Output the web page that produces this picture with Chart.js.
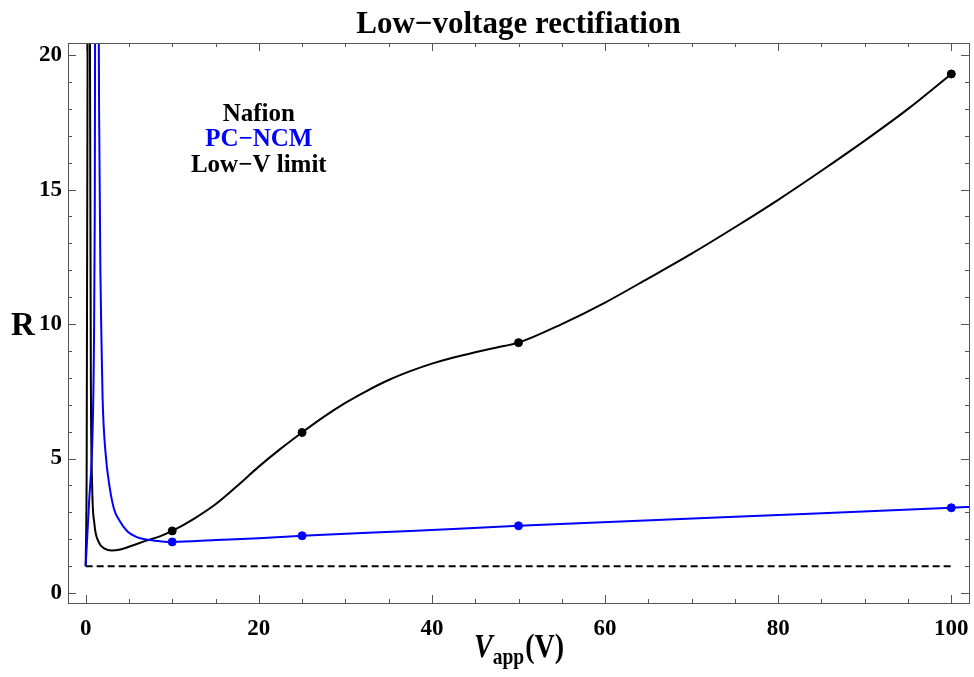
<!DOCTYPE html>
<html>
<head>
<meta charset="utf-8">
<script src="https://cdn.jsdelivr.net/npm/chart.js@4"></script>
<style>
  html, body { margin: 0; padding: 0; background: #fff; }
  #wrap { width: 974px; height: 677px; }
</style>
</head>
<body>
<div id="wrap"><canvas id="rectChart" width="974" height="677"></canvas></div>
<script>
// values
var vNafion = [0, 0.12, 0.22, 0.3, 0.42, 0.5, 0.6, 0.75, 1, 1.5, 2.2, 3, 4, 5, 7, 8.5, 10, 12.5, 15, 17.5, 20, 22.5, 25, 27.5, 30, 32.5, 35, 37.5, 40, 42.5, 45, 47.5, 50, 55, 60, 65, 70, 75, 80, 85, 90, 95, 100];
var rNafion = [1, 5, 20, 45, 45, 20, 8, 4, 2.6, 1.9, 1.65, 1.58, 1.62, 1.72, 1.95, 2.1, 2.31, 2.76, 3.3, 3.98, 4.7, 5.36, 5.97, 6.55, 7.07, 7.52, 7.92, 8.25, 8.53, 8.76, 8.95, 9.13, 9.31, 10.0, 10.8, 11.7, 12.62, 13.6, 14.62, 15.7, 16.82, 18.0, 19.3];

var vPcncm = [0, 0.4, 0.8, 0.95, 1.05, 1.15, 1.4, 1.55, 1.7, 1.85, 1.96, 2.3, 2.77, 3.3, 3.9, 4.8, 5.9, 7.4, 8.8, 10, 15, 20, 25, 37.5, 50, 75, 100, 102.5];
var rPcncm = [1, 3.4, 6, 9, 14, 30, 30, 18, 12, 9, 7.2, 5.2, 3.94, 3.1, 2.7, 2.3, 2.08, 1.97, 1.92, 1.9, 1.97, 2.04, 2.13, 2.31, 2.5, 2.84, 3.17, 3.21];

var vMeasured = [10, 25, 50, 100];
var rNafionPts = [2.31, 5.97, 9.31, 19.3];
var rPcncmPts = [1.9, 2.13, 2.5, 3.17];

var vLimit = [0, 100];
var rLimit = [1, 1];

var xTicks = [0, 20, 40, 60, 80, 100];
var yTicks = [0, 5, 10, 15, 20];
var xMinor = [5, 10, 15, 25, 30, 35, 45, 50, 55, 65, 70, 75, 85, 90, 95];
var yMinor = [1, 2, 3, 4, 6, 7, 8, 9, 11, 12, 13, 14, 16, 17, 18, 19];

var legendLabels = ['Nafion', 'PC\u2212NCM', 'Low\u2212V limit'];
var legendColors = ['#000000', '#0000ff', '#000000'];

var serif = "'Liberation Serif', 'DejaVu Serif', serif";

function pts(xs, ys) {
    var out = [];
    for (var i = 0; i < xs.length; i++) out.push({x: xs[i], y: ys[i]});
    return out;
}

// text squeezed horizontally a bit, like the mathematica export
function squeezed(ctx, text, x, y, font, sx) {
    ctx.save();
    ctx.font = font;
    ctx.translate(x, y);
    ctx.scale(sx, 1);
    ctx.fillText(text, 0, 0);
    ctx.restore();
}

// frame, inside ticks, legend text and titles
var decorPlugin = {
    id: 'decor',
    afterDraw: function(chart) {
        var ctx = chart.ctx;
        var a = chart.chartArea;
        var xs = chart.scales.x, ys = chart.scales.y;
        ctx.save();

        ctx.strokeStyle = '#555';
        ctx.lineWidth = 1;
        ctx.strokeRect(Math.round(a.left) + 0.5, Math.round(a.top) + 0.5, Math.round(a.right - a.left), Math.round(a.bottom - a.top));

        ctx.beginPath();
        var tick = function(list, len) {
            list.forEach(function(v) {
                var px = Math.round(xs.getPixelForValue(v)) + 0.5;
                ctx.moveTo(px, a.bottom); ctx.lineTo(px, a.bottom - len);
                ctx.moveTo(px, a.top); ctx.lineTo(px, a.top + len);
            });
        };
        var ytick = function(list, len) {
            list.forEach(function(v) {
                var py = Math.round(ys.getPixelForValue(v)) + 0.5;
                ctx.moveTo(a.left, py); ctx.lineTo(a.left + len, py);
                ctx.moveTo(a.right, py); ctx.lineTo(a.right - len, py);
            });
        };
        tick(xTicks, 8); tick(xMinor, 4);
        ytick(yTicks, 8); ytick(yMinor, 4);
        ctx.stroke();

        // legend text inside the plot
        ctx.font = 'bold 25px ' + serif;
        ctx.textAlign = 'center';
        ctx.textBaseline = 'middle';
        var lx = xs.getPixelForValue(20);
        var ly = [17.8, 16.85, 15.9];
        for (var i = 0; i < legendLabels.length; i++) {
            ctx.fillStyle = legendColors[i];
            ctx.fillText(legendLabels[i], lx, ys.getPixelForValue(ly[i]));
        }

        // title
        ctx.fillStyle = '#000';
        ctx.textBaseline = 'alphabetic';
        ctx.font = 'bold 31px ' + serif;
        ctx.fillText('Low\u2212voltage rectifiation', (a.left + a.right) / 2, 33);

        // y title
        ctx.font = 'bold 33px ' + serif;
        ctx.fillText('R', 23, 335);

        // x title: V_app(V)
        var sx = 0.85;
        var cx = (a.left + a.right) / 2;
        var base = 657;
        ctx.textAlign = 'left';
        var f1 = 'italic bold 33px ' + serif, f2 = 'bold 23px ' + serif, f3 = 'bold 33px ' + serif;
        ctx.font = f1; var w1 = ctx.measureText('V').width * sx;
        ctx.font = f2; var w2 = ctx.measureText('app').width * sx;
        ctx.font = f3; var w3 = ctx.measureText('(V)').width * sx;
        var x0 = cx - (w1 + w2 + w3) / 2;
        squeezed(ctx, 'V', x0, base, f1, sx);
        squeezed(ctx, 'app', x0 + w1, base + 7, f2, sx);
        squeezed(ctx, '(V)', x0 + w1 + w2 + 1, base, f3, sx);

        ctx.restore();
    }
};

var ctx = document.getElementById('rectChart');

var chart = new Chart(ctx, {
    type: 'scatter',
    data: {
        datasets: [
            {
                label: 'Low-V limit',
                data: pts(vLimit, rLimit),
                showLine: true,
                borderColor: '#000',
                borderWidth: 2,
                borderDash: [7, 4],
                pointRadius: 0
            },
            {
                label: 'PC-NCM',
                data: pts(vPcncm, rPcncm),
                showLine: true,
                borderColor: '#0000ff',
                borderWidth: 2,
                cubicInterpolationMode: 'monotone',
                pointRadius: 0
            },
            {
                label: 'Nafion',
                data: pts(vNafion, rNafion),
                showLine: true,
                borderColor: '#000',
                borderWidth: 2,
                cubicInterpolationMode: 'monotone',
                pointRadius: 0
            },
            {
                label: 'PC-NCM points',
                data: pts(vMeasured, rPcncmPts),
                showLine: false,
                backgroundColor: '#0000ff',
                borderColor: '#0000ff',
                pointRadius: 4
            },
            {
                label: 'Nafion points',
                data: pts(vMeasured, rNafionPts),
                showLine: false,
                backgroundColor: '#000',
                borderColor: '#000',
                pointRadius: 4
            }
        ]
    },
    options: {
        responsive: false,
        animation: false,
        layout: { padding: { top: 43, right: 3, left: 0, bottom: 0 } },
        plugins: {
            legend: { display: false },
            title: { display: false },
            tooltip: { enabled: false }
        },
        scales: {
            x: {
                type: 'linear',
                min: -2.04,
                max: 102.04,
                grid: { display: false, drawTicks: false },
                border: { display: false },
                afterBuildTicks: function(s) { s.ticks = xTicks.map(function(v) { return {value: v}; }); },
                afterFit: function(s) { s.height = 74; s.paddingLeft = 0; s.paddingRight = 0; },
                ticks: {
                    padding: 12,
                    color: '#000',
                    maxRotation: 0,
                    font: { family: serif, size: 23, weight: 'bold' }
                }
            },
            y: {
                type: 'linear',
                min: -0.37,
                max: 20.45,
                grid: { display: false, drawTicks: false },
                border: { display: false },
                afterBuildTicks: function(s) { s.ticks = yTicks.map(function(v) { return {value: v}; }); },
                afterFit: function(s) { s.width = 68; s.paddingTop = 0; s.paddingBottom = 0; },
                ticks: {
                    padding: 6,
                    color: '#000',
                    font: { family: serif, size: 23, weight: 'bold' }
                }
            }
        }
    },
    plugins: [decorPlugin]
});
</script>
</body>
</html>
